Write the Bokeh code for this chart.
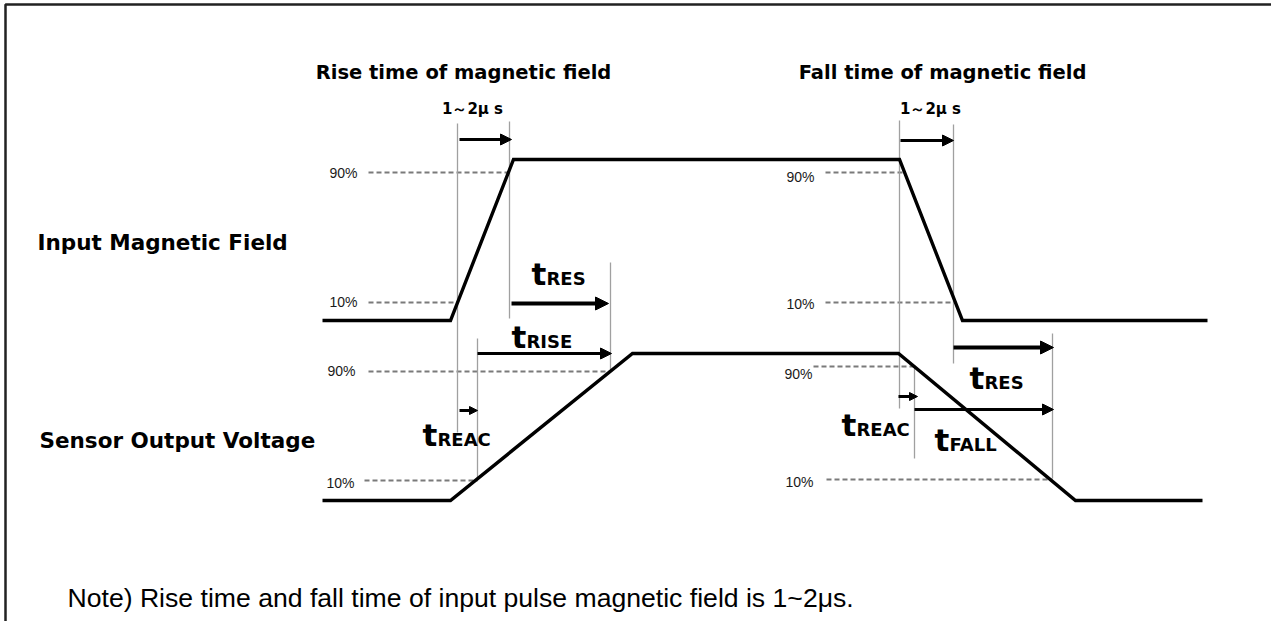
from bokeh.plotting import figure
from bokeh.models import Range1d, Arrow, NormalHead
from bokeh.core.properties import value
from bokeh.embed import file_html
from bokeh.resources import INLINE

# ---- data (diagram coordinates, pixels of the drawing) ----
input_x = [322, 450, 513, 899, 962, 1207]
input_y = [320, 320, 159, 159, 320, 320]
output_x = [322, 450, 632, 898, 1075, 1202]
output_y = [500, 500, 353, 353, 500, 500]

# level guides
guide_x0 = [368, 368, 368, 364, 825, 825, 813, 826]
guide_x1 = [509, 457, 610, 477, 903, 954, 914, 1052]
guide_y = [172, 302, 371, 480, 172, 302, 366, 479]
guide_labels = ["90%", "10%", "90%", "10%", "90%", "10%", "90%", "10%"]
label_x = [329, 329, 327, 326, 786, 786, 784, 785]
label_y = [172, 301, 370, 482, 176, 303, 373, 481]

# timing markers (thin vertical lines)
mark_x = [457, 509, 477, 610, 899, 953, 914, 1052]
mark_y0 = [123, 121, 338, 262, 120, 124, 365, 333]
mark_y1 = [432, 318, 478, 370, 408, 363, 458, 478]

# interval arrows
arr_x0 = [459, 511, 477, 459, 900, 953, 914, 898]
arr_x1 = [511, 608, 611, 477, 953, 1053, 1053, 917]
arr_y = [139, 303, 353, 410, 140, 347, 409, 396]
arr_w = [3, 4, 3, 3, 3, 4, 3, 3]
arr_h = [11, 13, 11, 8, 11, 13, 11, 8]

# interval labels
tlab_sub = ["RES", "RISE", "REAC", "RES", "REAC", "FALL"]
tlab_x = [531, 511, 422, 969, 841, 934]
tlab_y = [283, 346, 444, 387, 434, 449]

W, H = 1271, 621
p = figure(width=W, height=H, x_range=Range1d(0, W), y_range=Range1d(H, 0),
           output_backend="svg", toolbar_location=None,
           x_axis_location=None, y_axis_location=None, min_border=0)
p.grid.visible = False
p.outline_line_color = None
p.background_fill_color = "white"

# frame (top and left edges visible)
p.line([5, 5, W + 5], [H + 5, 4, 4], line_color="#222222", line_width=2.5)

# dashed level guides
p.segment(x0=guide_x0, y0=guide_y, x1=guide_x1, y1=guide_y,
          line_color="#7a7a7a", line_width=1.8, line_dash="5 3")
p.text(x=label_x, y=label_y, text=guide_labels, text_font=value("Liberation Sans"),
       text_font_size="14px", text_baseline="middle", text_align="left", text_color="#1a1a1a")

# thin vertical markers
p.segment(x0=mark_x, y0=mark_y0, x1=mark_x, y1=mark_y1, line_color="#a0a0a0", line_width=1.3)

# waveforms
p.line(input_x, input_y, line_color="black", line_width=3.4, line_join="miter")
p.line(output_x, output_y, line_color="black", line_width=3.4, line_join="miter")

# arrows
for x0, x1, y, w, h in zip(arr_x0, arr_x1, arr_y, arr_w, arr_h):
    p.add_layout(Arrow(end=NormalHead(size=h, fill_color="black", line_color="black", line_width=1),
                       x_start=x0, y_start=y, x_end=x1, y_end=y,
                       line_width=w, line_color="black"))

bold = value("DejaVu Sans")
# interval labels
p.text(x=tlab_x, y=[v - 10 for v in tlab_y], text=["t"] * len(tlab_x), text_font=bold,
       text_font_style="bold", text_font_size="31px", text_baseline="middle",
       text_align="left", text_color="black")
p.text(x=[v + 15 for v in tlab_x], y=[v - 5 for v in tlab_y], text=tlab_sub, text_font=bold,
       text_font_style="bold", text_font_size="18px", text_baseline="middle",
       text_align="left", text_color="black")

# titles
p.text(x=[463, 942], y=[72, 72], text=["Rise time of magnetic field", "Fall time of magnetic field"],
       text_font=bold, text_font_style="bold", text_font_size="19.5px",
       text_baseline="middle", text_align="center", text_color="black")
p.text(x=[472, 930], y=[108, 108], text=["1～2μ s", "1～2μ s"],
       text_font=bold, text_font_style="bold", text_font_size="15px",
       text_baseline="middle", text_align="center", text_color="black")
p.text(x=[37, 39], y=[242, 440], text=["Input Magnetic Field", "Sensor Output Voltage"],
       text_font=bold, text_font_style="bold", text_font_size="21.5px",
       text_baseline="middle", text_align="left", text_color="black")

# note
p.text(x=[67], y=[597], text=["Note) Rise time and fall time of input pulse magnetic field is 1~2μs."],
       text_font=value("Liberation Sans"), text_font_size="26.6px",
       text_baseline="middle", text_align="left", text_color="black")

open("out.html", "w").write(file_html(p, INLINE))
